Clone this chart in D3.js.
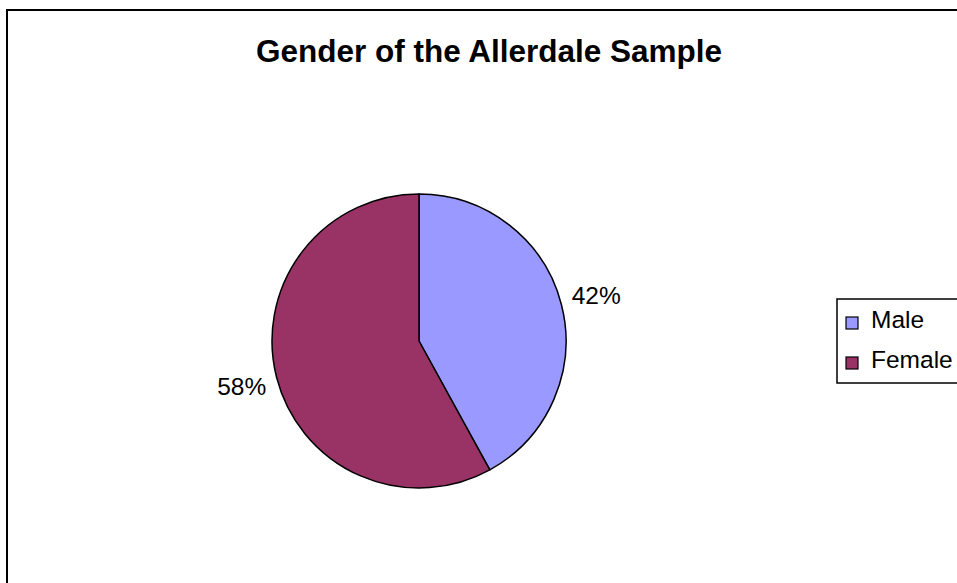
<!DOCTYPE html>
<html>
<head>
<meta charset="utf-8">
<script src="https://cdn.jsdelivr.net/npm/d3@7"></script>
<style>
  html, body { margin: 0; padding: 0; background: #fff; }
  svg { display: block; }
  text { font-family: Arial, "Liberation Sans", sans-serif; }
</style>
</head>
<body>
<svg id="chart" width="957" height="583"></svg>
<script>
const title = "Gender of the Allerdale Sample";
const categories = ["Male", "Female"];
const values = [42, 58];
const colors = ["#9999FF", "#993366"];

const svg = d3.select("#chart");
const W = 957, H = 583;

svg.append("rect").attr("width", W).attr("height", H).attr("fill", "#fff");
// outer chart border (extends beyond the view on right and bottom)
svg.append("rect")
  .attr("x", 7).attr("y", 10).attr("width", W + 20).attr("height", H + 20)
  .attr("fill", "none").attr("stroke", "#000").attr("stroke-width", 2);

svg.append("text")
  .attr("x", 489).attr("y", 62)
  .attr("text-anchor", "middle")
  .attr("font-size", 31.5).attr("font-weight", "bold")
  .attr("fill", "#000")
  .text(title);

const cx = 419, cy = 341, r = 147;
const data = categories.map((c, i) => ({ name: c, value: values[i], color: colors[i] }));
const pie = d3.pie().sort(null).value(d => d.value).startAngle(0).endAngle(2 * Math.PI);
const arcs = pie(data);
const total = d3.sum(values);

const arc = d3.arc().innerRadius(0).outerRadius(r);
const labelArc = d3.arc().innerRadius(183).outerRadius(183);

const g = svg.append("g").attr("transform", `translate(${cx},${cy})`);
g.selectAll("path.slice").data(arcs).enter().append("path")
  .attr("class", "slice")
  .attr("d", arc)
  .attr("fill", d => d.data.color)
  .attr("stroke", "#000").attr("stroke-width", 1.5).attr("stroke-linejoin", "round");

g.selectAll("text.lbl").data(arcs).enter().append("text")
  .attr("class", "lbl")
  .attr("transform", d => `translate(${labelArc.centroid(d)})`)
  .attr("text-anchor", "middle")
  .attr("dy", "0.35em")
  .attr("font-size", 24.5)
  .attr("fill", "#000")
  .text(d => Math.round(d.data.value / total * 100) + "%");

// legend
const lg = svg.append("g");
lg.append("rect")
  .attr("x", 837).attr("y", 299).attr("width", 140).attr("height", 84)
  .attr("fill", "#fff").attr("stroke", "#000").attr("stroke-width", 1.5);
const items = lg.selectAll("g.item").data(data).enter().append("g")
  .attr("class", "item")
  .attr("transform", (d, i) => `translate(846, ${317 + i * 40})`);
items.append("rect")
  .attr("width", 12).attr("height", 12)
  .attr("fill", d => d.color).attr("stroke", "#000").attr("stroke-width", 1.2);
items.append("text")
  .attr("x", 25).attr("y", 11)
  .attr("font-size", 24.5)
  .attr("fill", "#000")
  .text(d => d.name);
</script>
</body>
</html>
